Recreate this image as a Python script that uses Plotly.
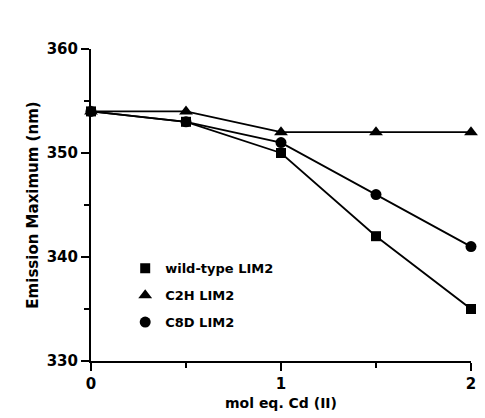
import plotly.graph_objects as go

x_vals = [0, 0.5, 1, 1.5, 2]
wild_type = [354, 353, 350, 342, 335]
c2h = [354, 354, 352, 352, 352]
c8d = [354, 353, 351, 346, 341]
names = ["wild-type LIM2", "C2H LIM2", "C8D LIM2"]
symbols = ["square", "triangle-up", "circle"]
sizes = [10, 12, 11]

FAM = "DejaVu Sans, Liberation Sans, sans-serif"

fig = go.Figure()
for i, (ys, nm, sym, sz) in enumerate(zip([wild_type, c2h, c8d], names, symbols, sizes)):
    fig.add_trace(go.Scatter(
        x=x_vals, y=ys, mode="lines+markers", name=nm,
        showlegend=False,
        line=dict(color="black", width=1.8),
        marker=dict(symbol=sym, size=sz, color="black"),
        cliponaxis=False,
    ))
    # legend entry showing only the marker
    fig.add_trace(go.Scatter(
        x=[None], y=[None], mode="markers", name=nm,
        legendgroup=f"g{i}",
        marker=dict(symbol=sym, size=sz, color="black"),
    ))

fig.update_layout(
    width=485, height=418,
    margin=dict(l=91, r=9, t=49, b=57),
    paper_bgcolor="white", plot_bgcolor="white",
    font=dict(family=FAM, color="black", size=13, weight="bold"),
    showlegend=True,
    legend=dict(x=0.09, y=0.345, xanchor="left", yanchor="top",
                bgcolor="rgba(0,0,0,0)", traceorder="grouped", tracegroupgap=7,
                font=dict(size=13, family=FAM, weight="bold"),
                itemwidth=30),
    xaxis=dict(range=[0, 2], tickvals=[0, 1, 2], ticktext=["0", "1", "2"],
               showgrid=False, zeroline=False, showline=True, linecolor="black", linewidth=2,
               ticks="outside", ticklen=8, tickwidth=2, tickcolor="black",
               minor=dict(tickvals=[0.5, 1.5], ticks="outside", ticklen=5, tickwidth=2, tickcolor="black"),
               tickfont=dict(size=15, family=FAM, weight="bold"),
               title=dict(text="mol eq. Cd (II)", standoff=6, font=dict(size=14, family=FAM, weight="bold"))),
    yaxis=dict(range=[330, 360], tickvals=[330, 340, 350, 360],
               showgrid=False, zeroline=False, showline=True, linecolor="black", linewidth=2,
               ticks="outside", ticklen=8, tickwidth=2, tickcolor="black",
               minor=dict(tickvals=[335, 345, 355], ticks="outside", ticklen=5, tickwidth=2, tickcolor="black"),
               tickfont=dict(size=15, family=FAM, weight="bold"),
               title=dict(text="Emission Maximum (nm)", standoff=4, font=dict(size=15, family=FAM, weight="bold"))),
)

fig.write_html("out.html")
